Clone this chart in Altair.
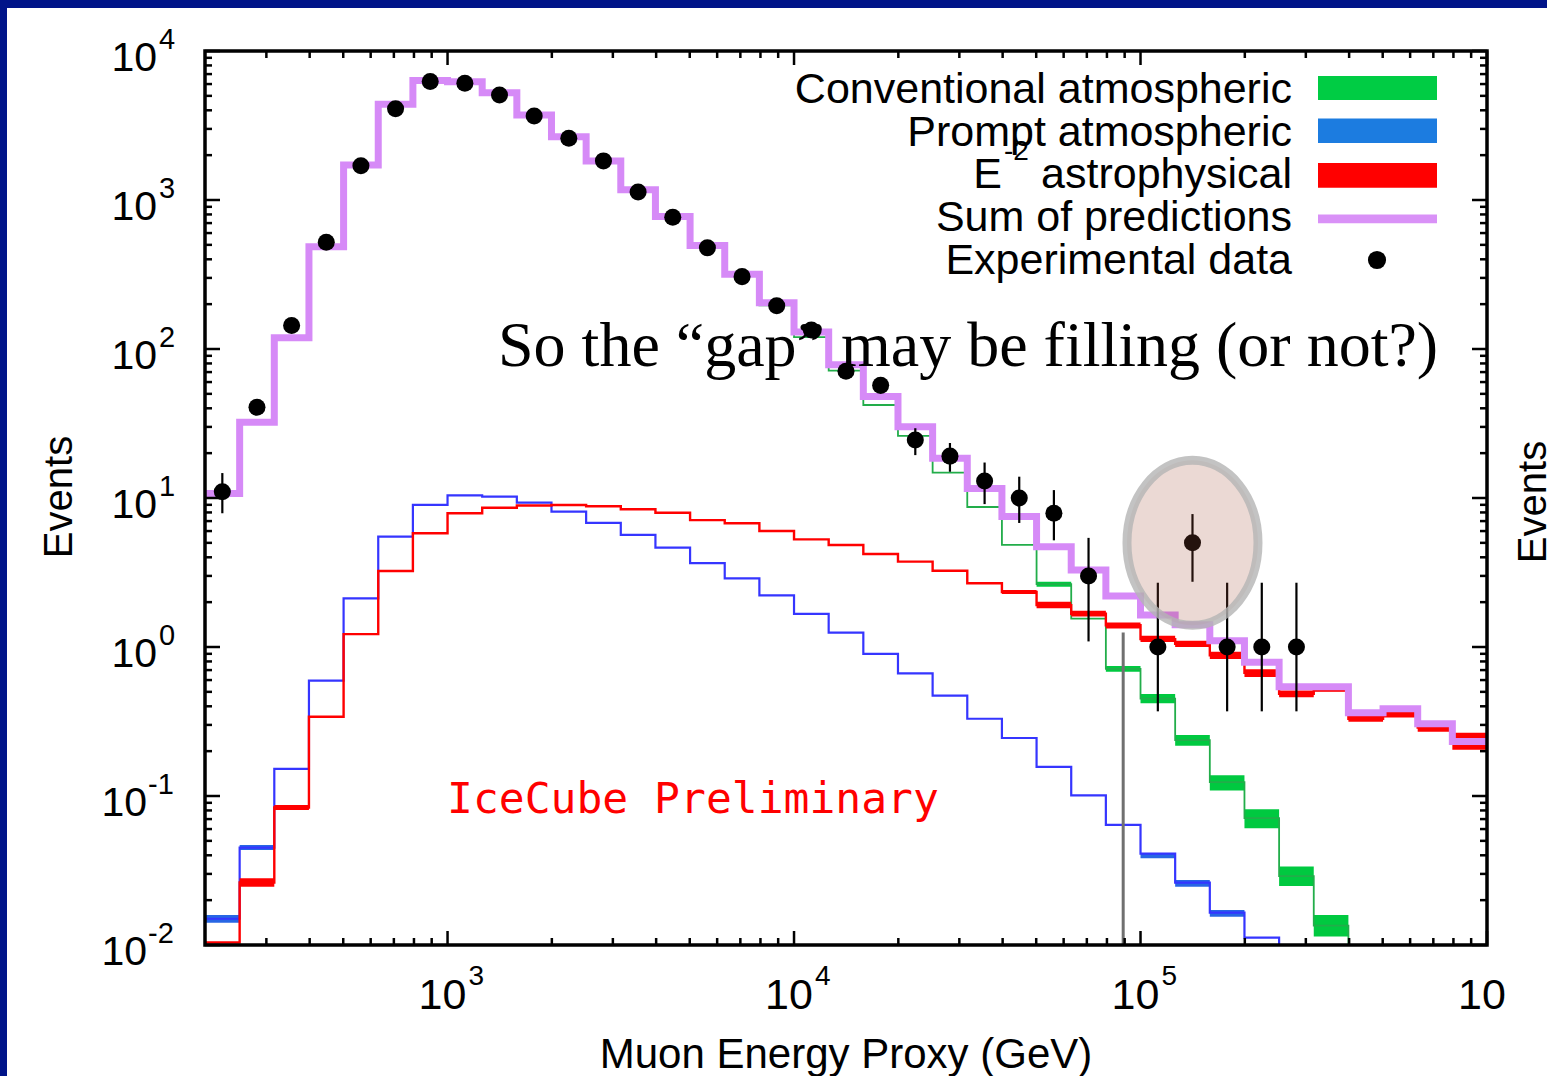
import altair as alt
import pandas as pd

# ---------------------------------------------------------------------------
# Binning: 37 bins of 0.1 in log10(E / GeV), from 10^2.3 to 10^6 GeV
# ---------------------------------------------------------------------------
LOG_E_MIN = 2.3
LOG_BIN = 0.1
N_BINS = 37
edges = [10 ** (LOG_E_MIN + LOG_BIN * k) for k in range(N_BINS + 1)]
centers = [10 ** (LOG_E_MIN + LOG_BIN * (k + 0.5)) for k in range(N_BINS)]

# Expected events per bin
conventional = [10.7, 32.2, 118.8, 485, 1715, 4390, 6315, 6200, 5230, 3700,
                2640, 1815, 1156, 762, 484, 308, 196, 120, 71.6, 42.1,
                26.1, 14.8, 8.7, 4.84, 2.64, 1.55, 0.714, 0.45, 0.237, 0.124,
                0.071, 0.029, 0.0135, 0.005]
prompt = [0.0150, 0.0451, 0.152, 0.594, 2.12, 5.50, 8.98, 10.4, 10.2, 9.3,
          8.1, 6.8, 5.65, 4.64, 3.65, 2.89, 2.22, 1.67, 1.25, 0.90,
          0.666, 0.471, 0.330, 0.245, 0.157, 0.101, 0.064, 0.041, 0.0262, 0.0165,
          0.0112, 0.006]
astro = [0.0104, 0.0263, 0.0838, 0.340, 1.22, 3.24, 5.8, 7.9, 8.6, 8.9,
         8.97, 8.8, 8.4, 7.97, 7.1, 6.77, 6.0, 5.28, 4.84, 4.21,
         3.74, 3.25, 2.68, 2.34, 1.91, 1.67, 1.40, 1.13, 1.05, 0.88,
         0.67, 0.485, 0.515, 0.33, 0.355, 0.288, 0.233]
total = [10.7, 32.3, 119, 486, 1718, 4400, 6330, 6220, 5250, 3720,
         2660, 1830, 1170, 775, 495, 318, 204, 130, 78.5, 48,
         30.1, 18.5, 11.6, 7.5, 4.71, 3.29, 2.2, 1.64, 1.41, 1.10,
         0.79, 0.54, 0.54, 0.362, 0.385, 0.306, 0.232]

# Systematic bands (bin index, lower, upper)
conv_band_bins = [24, 26, 27, 28, 29, 30, 31, 32]
conv_band_lo = [2.54, 0.683, 0.419, 0.217, 0.109, 0.0607, 0.0249, 0.0114]
conv_band_hi = [2.74, 0.745, 0.484, 0.257, 0.138, 0.0814, 0.0336, 0.0159]
prompt_band_bins = [0, 1, 27, 28, 29]
prompt_band_lo = [0.0141, 0.0434, 0.0382, 0.0246, 0.0155]
prompt_band_hi = [0.0159, 0.0469, 0.0412, 0.0273, 0.0172]
astro_band_bins = [1, 2, 23, 24, 25, 26, 27, 28, 29, 30, 31, 32, 33, 34, 35, 36]
astro_band_lo = [0.0246, 0.0805, 2.27, 1.82, 1.60, 1.33, 1.08, 1.00, 0.83, 0.63,
                 0.46, 0.50, 0.315, 0.337, 0.270, 0.204]
astro_band_hi = [0.0280, 0.0871, 2.41, 2.01, 1.75, 1.46, 1.19, 1.10, 0.93, 0.71,
                 0.51, 0.53, 0.344, 0.374, 0.307, 0.266]

# Observed events (None: empty bin)
observed = [11.0, 40.6, 144, 520, 1700, 4100, 6250, 6080, 5070, 3660,
            2600, 1830, 1132, 767, 478, 306, 195, 134, 71, 57,
            24.5, 19.1, 13.0, 10.0, 7.9, 3.0, None, 1.0, 5.0, 1.0,
            1.0, 1.0]
err_bins = [0, 20, 21, 22, 23, 24, 25, 27, 28, 29, 30, 31]
err_lo = [7.9, 19.4, 15.0, 9.1, 6.8, 5.2, 1.09, 0.37, 2.74, 0.37, 0.37, 0.37]
err_hi = [14.7, 29.4, 23.4, 17.3, 13.9, 11.3, 5.4, 2.70, 7.8, 2.70, 2.70, 2.70]
empty_bin = 26
empty_bin_upper = 1.25
highlight_bin = 28

# Axis decorations
x_major_exp = [3, 4, 5, 6]
x_label_sup = ["3", "4", "5", ""]
y_major_exp = [-2, -1, 0, 1, 2, 3, 4]
y_label_sup = ["-2", "-1", "0", "1", "2", "3", "4"]

legend_labels = ["Conventional atmospheric", "Prompt atmospheric", "astrophysical",
                 "Sum of predictions", "Experimental data"]
legend_colors = ["#00cc44", "#1c7ce0", "#ff0000", "#d991f7"]

# ---------------------------------------------------------------------------
W, H = 1282, 894
SANS = "Liberation Sans"
SERIF = "Liberation Serif"
MONO = "DejaVu Sans Mono"

GREEN_LINE, GREEN_FILL = "#22ad4a", "#00c940"
BLUE_LINE, BLUE_FILL = "#3535ff", "#2766e4"
RED = "#ff0000"
PURPLE = "#d68af7"
FRAME_BLUE = "#001489"

xs = alt.Scale(type="log", domain=[edges[0], edges[-1]], nice=False)
ys = alt.Scale(type="log", domain=[0.01, 10000], nice=False)
one = pd.DataFrame({"a": [0]})


def step_line(values, color, width):
    rows = []
    for k, v in enumerate(values):
        rows.append({"i": 2 * k, "E": edges[k], "N": v})
        rows.append({"i": 2 * k + 1, "E": edges[k + 1], "N": v})
    return alt.Chart(pd.DataFrame(rows)).mark_line(
        color=color, strokeWidth=width, clip=True, strokeJoin="miter"
    ).encode(
        x=alt.X("E:Q", scale=xs, axis=None),
        y=alt.Y("N:Q", scale=ys, axis=None),
        order="i:Q",
    )


def band(bins, lo, hi, color):
    df = pd.DataFrame({
        "E0": [edges[b] for b in bins],
        "E1": [edges[b + 1] for b in bins],
        "lo": lo, "hi": hi,
    })
    return alt.Chart(df).mark_rect(color=color, clip=True).encode(
        x=alt.X("E0:Q", scale=xs, axis=None), x2="E1:Q",
        y=alt.Y("lo:Q", scale=ys, axis=None), y2="hi:Q",
    )


def box(x0, x1, y0, y1, color):
    return alt.Chart(one).mark_rect(color=color).encode(
        x=alt.value(x0), x2=alt.value(x1), y=alt.value(y0), y2=alt.value(y1)
    )


def label(text, x, y, size, font=SANS, align="left", color="black", angle=None):
    kw = dict(text=text, fontSize=size, font=font, align=align,
              baseline="alphabetic", color=color)
    if angle is not None:
        kw["angle"] = angle
    return alt.Chart(one).mark_text(**kw).encode(x=alt.value(x), y=alt.value(y))


layers = []

# slide frame bands
layers.append(box(-205, 1342, -51, -43, FRAME_BLUE))
layers.append(box(-205, -198, -51, 1025, FRAME_BLUE))

# predictions
layers.append(band(conv_band_bins, conv_band_lo, conv_band_hi, GREEN_FILL))
layers.append(step_line(conventional, GREEN_LINE, 1.8))
layers.append(band(prompt_band_bins, prompt_band_lo, prompt_band_hi, BLUE_FILL))
layers.append(step_line(prompt, BLUE_LINE, 2.2))
layers.append(band(astro_band_bins, astro_band_lo, astro_band_hi, RED))
layers.append(step_line(astro, RED, 2.4))
layers.append(step_line(total, PURPLE, 7))

# data: empty bin upper limit, error bars, points
layers.append(
    alt.Chart(pd.DataFrame({"E": [centers[empty_bin]], "lo": [0.001], "hi": [empty_bin_upper]}))
    .mark_rule(color="#707070", strokeWidth=3, clip=True)
    .encode(x=alt.X("E:Q", scale=xs, axis=None), y=alt.Y("lo:Q", scale=ys, axis=None), y2="hi:Q")
)
layers.append(
    alt.Chart(pd.DataFrame({"E": [centers[b] for b in err_bins], "lo": err_lo, "hi": err_hi}))
    .mark_rule(color="black", strokeWidth=2.2, clip=True)
    .encode(x=alt.X("E:Q", scale=xs, axis=None), y=alt.Y("lo:Q", scale=ys, axis=None), y2="hi:Q")
)
obs_df = pd.DataFrame([{"E": centers[k], "N": v} for k, v in enumerate(observed) if v is not None])
layers.append(
    alt.Chart(obs_df).mark_circle(color="black", size=290, opacity=1, clip=True)
    .encode(x=alt.X("E:Q", scale=xs, axis=None), y=alt.Y("N:Q", scale=ys, axis=None))
)

# highlight around the bin of interest
ellipse = "M -0.794 0 A 0.794 1 0 1 1 0.794 0 A 0.794 1 0 1 1 -0.794 0 Z"
layers.append(
    alt.Chart(pd.DataFrame({"E": [centers[highlight_bin]], "N": [observed[highlight_bin]]}))
    .mark_point(shape=ellipse, size=27225, filled=True, opacity=1,
                fill="#a5503c", fillOpacity=0.22,
                stroke="#b4b4b4", strokeOpacity=0.8, strokeWidth=9)
    .encode(x=alt.X("E:Q", scale=xs, axis=None), y=alt.Y("N:Q", scale=ys, axis=None))
)

# plot border with inward ticks on all four sides
layers.append(
    alt.Chart(one).mark_rect(fillOpacity=0, stroke="black", strokeWidth=3.5)
    .encode(x=alt.value(0), x2=alt.value(W), y=alt.value(0), y2=alt.value(H))
)
x_major = [10.0 ** e for e in x_major_exp]
x_minor = [m * 10.0 ** e for e in range(2, 6) for m in range(2, 10)
           if edges[0] * 1.02 < m * 10.0 ** e < edges[-1]]
y_major = [10.0 ** e for e in y_major_exp]
y_minor = [m * 10.0 ** e for e in range(-2, 4) for m in range(2, 10)]
for vals, length in [(x_major, 14), (x_minor, 7)]:
    base = alt.Chart(pd.DataFrame({"v": vals})).mark_rule(color="black", strokeWidth=2.5)
    xenc = alt.X("v:Q", scale=xs, axis=None)
    layers.append(base.encode(x=xenc, y=alt.value(H), y2=alt.value(H - length)))
    layers.append(base.encode(x=xenc, y=alt.value(0), y2=alt.value(length)))
for vals, length in [(y_major, 15), (y_minor, 7)]:
    base = alt.Chart(pd.DataFrame({"v": vals})).mark_rule(color="black", strokeWidth=2.5)
    yenc = alt.Y("v:Q", scale=ys, axis=None)
    layers.append(base.encode(y=yenc, x=alt.value(0), x2=alt.value(length)))
    layers.append(base.encode(y=yenc, x=alt.value(W), x2=alt.value(W - length)))

# tick labels (10 with superscript exponent)
xl = pd.DataFrame({"v": x_major, "sup": x_label_sup, "base": ["10"] * len(x_major)})
layers.append(
    alt.Chart(xl).mark_text(font=SANS, fontSize=43, align="center", baseline="alphabetic", dx=-5)
    .encode(x=alt.X("v:Q", scale=xs, axis=None), y=alt.value(958), text="base:N")
)
layers.append(
    alt.Chart(xl).mark_text(font=SANS, fontSize=28, align="left", baseline="alphabetic", dx=21)
    .encode(x=alt.X("v:Q", scale=xs, axis=None), y=alt.value(934), text="sup:N")
)
yl = pd.DataFrame({"v": y_major, "sup": y_label_sup, "base": ["10"] * len(y_major),
                   "neg": [e < 0 for e in y_major_exp]})
for is_neg, base_x, sup_x in [(False, -48, -46), (True, -58, -57)]:
    part = yl[yl["neg"] == is_neg]
    layers.append(
        alt.Chart(part).mark_text(font=SANS, fontSize=41, align="right", baseline="alphabetic", dy=20)
        .encode(x=alt.value(base_x), y=alt.Y("v:Q", scale=ys, axis=None), text="base:N")
    )
    layers.append(
        alt.Chart(part).mark_text(font=SANS, fontSize=29, align="left", baseline="alphabetic", dy=-2)
        .encode(x=alt.value(sup_x), y=alt.Y("v:Q", scale=ys, axis=None), text="sup:N")
    )

# axis titles
layers.append(label("Events", -133, 446, 40, align="center", angle=270))
layers.append(label("Muon Energy Proxy (GeV)", 641, 1017, 42, align="center"))
layers.append(label("Events", 1341, 451, 40, align="center", angle=270))

# legend
row_base = [52, 94.7, 137.4, 180.1, 222.8]
swatch_y = [(25, 49), (67.6, 92), (112, 136.7), (163.6, 172.3)]
for i, text in enumerate(legend_labels):
    layers.append(label(text, 1087, row_base[i], 43, align="right"))
for (y0, y1), c in zip(swatch_y, legend_colors):
    layers.append(box(1113, 1232, y0, y1, c))
layers.append(label("E", 797, row_base[2], 43, align="right"))
layers.append(label("-2", 799, 109, 28))
layers.append(
    alt.Chart(one).mark_circle(color="black", size=330, opacity=1)
    .encode(x=alt.value(1172), y=alt.value(209))
)

# annotations
layers.append(label("IceCube Preliminary", 242, 762, 43, font=MONO, color="#ff0000"))
layers.append(label("So the \u201cgap\u201d may be filling (or not?)", 293, 315, 64, font=SERIF))

chart = alt.layer(*layers).properties(
    width=W,
    height=H,
    padding={"left": 205, "top": 51, "right": 60, "bottom": 131},
    autosize=alt.AutoSizeParams(type="none"),
    background="white",
).configure_view(stroke="transparent")

chart.save("out.html", embed_options={"renderer": "svg", "actions": False})
